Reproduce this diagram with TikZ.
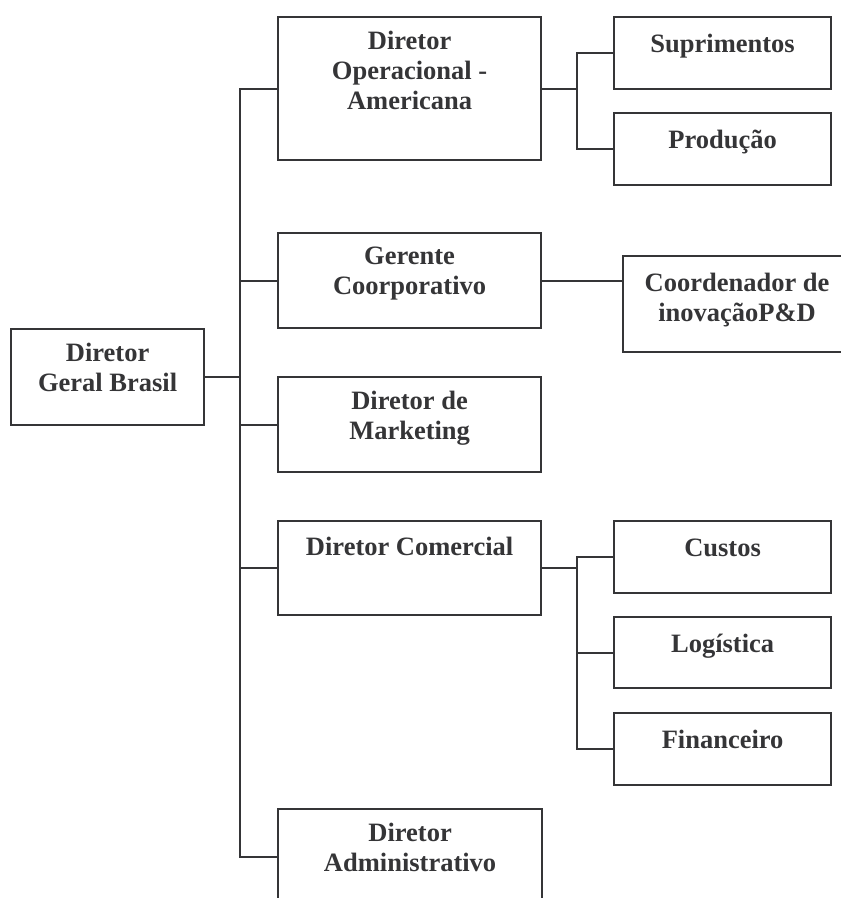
\documentclass[tikz,border=0pt]{standalone}
\usepackage{fontspec}
\setmainfont{Liberation Serif}
\definecolor{ink}{HTML}{353537}
\begin{document}
\begin{tikzpicture}[x=1pt,y=-1pt,
  box/.style={draw=ink, line width=2.2pt, inner sep=0pt},
  wire/.style={draw=ink, line width=2.2pt},
  txt/.style={text=ink, font=\fontsize{26.5}{30}\selectfont\bfseries, align=center,
    inner sep=0pt, anchor=north, execute at begin node=\strut}]
\useasboundingbox (0,0) rectangle (841,898);
\clip (0,0) rectangle (841,898);

% boxes, given by their corners
\newcommand{\orgbox}[5]{%
  \path (#2,#3) coordinate (#1-nw);
  \node[box, minimum width=#4-#2, minimum height=#5-#3, anchor=north west]
    (#1) at (#1-nw) {};}
\orgbox{geral}{10}{328}{203}{424}
\orgbox{oper}{277}{16}{540}{159}
\orgbox{ger}{277}{232}{540}{327}
\orgbox{mkt}{277}{376}{540}{471}
\orgbox{com}{277}{520}{540}{614}
\orgbox{adm}{277}{808}{541}{903}
\orgbox{sup}{613}{16}{830}{88}
\orgbox{prod}{613}{112}{830}{184}
\orgbox{coord}{622}{255}{850}{351}
\orgbox{cus}{613}{520}{830}{592}
\orgbox{log}{613}{616}{830}{687}
\orgbox{fin}{613}{712}{830}{784}

% labels, top aligned inside each box
\node[txt] (geral-t) at ([yshift=-14.5pt]geral.north) {Diretor\\Geral Brasil};
\node[txt] (oper-t) at ([yshift=-15pt]oper.north) {Diretor\\Operacional -\\Americana};
\node[txt] (ger-t) at ([yshift=-14.5pt]ger.north) {Gerente\\Coorporativo};
\node[txt] (mkt-t) at ([yshift=-14.5pt]mkt.north) {Diretor de\\Marketing};
\node[txt] (com-t) at ([yshift=-14.5pt]com.north) {Diretor Comercial};
\node[txt] (adm-t) at ([yshift=-14.5pt]adm.north) {Diretor\\Administrativo};
\node[txt] (sup-t) at ([yshift=-15pt]sup.north) {Suprimentos};
\node[txt] (prod-t) at ([yshift=-15pt]prod.north) {Produção};
\node[txt] (coord-t) at ([yshift=-18pt]coord.north) {Coordenador de\\inovaçãoP\&D};
\node[txt] (cus-t) at ([yshift=-15pt]cus.north) {Custos};
\node[txt] (log-t) at ([yshift=-15pt]log.north) {Logística};
\node[txt] (fin-t) at ([yshift=-15pt]fin.north) {Financeiro};

% junction columns
\coordinate (trunk) at (240,0);
\coordinate (opj) at (577,0);
\coordinate (coj) at (577,0);

% main trunk
\draw[wire] (geral.east) -- (geral.east -| trunk);
\draw[wire] (oper.west) -- (oper.west -| trunk) |- (adm.west);
\draw[wire] (ger.west) -- (ger.west -| trunk);
\draw[wire] (mkt.west) -- (mkt.west -| trunk);
\draw[wire] (com.west) -- (com.west -| trunk);

% operations branch
\draw[wire] (oper.east) -- (oper.east -| opj);
\draw[wire] (sup.west) -- (sup.west -| opj) |- (prod.west);

% corporate manager branch
\draw[wire] (ger.east) -- (ger.east -| coord.west);

% commercial branch
\draw[wire] (com.east) -- (com.east -| coj);
\draw[wire] (cus.west) -- (cus.west -| coj) |- (fin.west);
\draw[wire] (log.west) -- (log.west -| coj);
\end{tikzpicture}
\end{document}
